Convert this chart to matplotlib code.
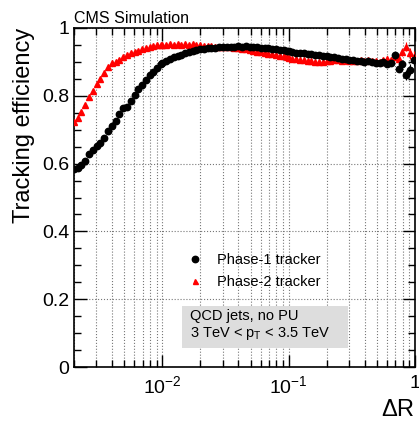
import numpy as np
import matplotlib
matplotlib.use("Agg")
import matplotlib.pyplot as plt
from matplotlib.ticker import LogLocator, NullFormatter, MultipleLocator
from matplotlib.patches import Rectangle
from matplotlib.lines import Line2D

plt.rcParams['font.family'] = ['Liberation Sans', 'DejaVu Sans']
plt.rcParams['mathtext.fontset'] = 'custom'
plt.rcParams['mathtext.rm'] = 'Liberation Sans'
plt.rcParams['mathtext.it'] = 'Liberation Sans:italic'

# delta R bin centres
dR = [0.00200, 0.00214, 0.00229, 0.00245, 0.00263, 0.00282, 0.00302, 0.00324, 0.00347, 0.00372,
      0.00398, 0.00427, 0.00457, 0.00490, 0.00525, 0.00562, 0.00603, 0.00646, 0.00692, 0.00741,
      0.00794, 0.00851, 0.00912, 0.00977,
      0.0100, 0.0107, 0.0115, 0.0123, 0.0132, 0.0141, 0.0151, 0.0162, 0.0174, 0.0186,
      0.0200, 0.0214, 0.0229, 0.0245, 0.0263, 0.0282, 0.0302, 0.0324, 0.0347, 0.0372,
      0.0398, 0.0427, 0.0457, 0.0490, 0.0525, 0.0562, 0.0603, 0.0646, 0.0692, 0.0741,
      0.0794, 0.0851, 0.0912, 0.0977,
      0.100, 0.107, 0.115, 0.123, 0.132, 0.141, 0.151, 0.162, 0.174, 0.186,
      0.200, 0.214, 0.229, 0.245, 0.263, 0.282, 0.302, 0.324, 0.347, 0.372,
      0.398, 0.427, 0.457, 0.490, 0.525, 0.562, 0.603, 0.646, 0.692, 0.741,
      0.794, 0.851, 0.912, 0.977]

# Phase-1 tracker
eff_phase1 = [0.583, 0.588, 0.596, 0.607, 0.628, 0.641, 0.651, 0.662, 0.675, 0.695,
              0.712, 0.726, 0.745, 0.764, 0.766, 0.785, 0.803, 0.819, 0.833, 0.846,
              0.860, 0.869, 0.881, 0.893,
              0.897, 0.903, 0.909, 0.913, 0.917, 0.921, 0.925, 0.928, 0.931, 0.934,
              0.937, 0.939, 0.940, 0.941, 0.942, 0.943, 0.944, 0.944, 0.945, 0.945,
              0.946, 0.945, 0.946, 0.944, 0.945, 0.943, 0.942, 0.941, 0.940, 0.938,
              0.937, 0.935, 0.934, 0.932,
              0.931, 0.929, 0.927, 0.926, 0.925, 0.923, 0.922, 0.920, 0.919, 0.917,
              0.916, 0.914, 0.913, 0.911, 0.910, 0.908, 0.906, 0.905, 0.904, 0.902,
              0.901, 0.903, 0.900, 0.898, 0.896, 0.900, 0.895, 0.896, 0.920, 0.880,
              0.895, 0.862, 0.877, 0.905]
err_phase1 = [0.0] * 78 + [0.004, 0.004, 0.005, 0.005, 0.006, 0.006, 0.007, 0.008, 0.010, 0.011,
                           0.012, 0.014, 0.016, 0.018]

# Phase-2 tracker
eff_phase2 = [0.724, 0.735, 0.752, 0.772, 0.795, 0.815, 0.835, 0.850, 0.867, 0.886,
              0.896, 0.900, 0.907, 0.915, 0.921, 0.925, 0.929, 0.933, 0.937, 0.941,
              0.945, 0.947, 0.949, 0.950,
              0.951, 0.950, 0.952, 0.951, 0.952, 0.950, 0.952, 0.951, 0.952, 0.950,
              0.951, 0.948, 0.947, 0.946, 0.945, 0.945, 0.944, 0.944, 0.943, 0.941,
              0.940, 0.938, 0.937, 0.935, 0.933, 0.930, 0.928, 0.926, 0.924, 0.922,
              0.920, 0.918, 0.916, 0.914,
              0.912, 0.910, 0.908, 0.906, 0.905, 0.903, 0.902, 0.900, 0.901, 0.899,
              0.902, 0.903, 0.905, 0.906, 0.904, 0.905, 0.903, 0.904, 0.903, 0.906,
              0.904, 0.905, 0.902, 0.903, 0.900, 0.905, 0.910, 0.905, 0.915, 0.908,
              0.930, 0.945, 0.925, 0.915]
err_phase2 = [0.0] * 78 + [0.004, 0.004, 0.005, 0.005, 0.006, 0.006, 0.007, 0.008, 0.010, 0.011,
                           0.012, 0.014, 0.016, 0.018]

fig = plt.figure(figsize=(4.19, 4.21), dpi=100)
ax = fig.add_axes([74 / 419, 54 / 421, 341 / 419, 339 / 421])

ax.errorbar(dR, eff_phase2, yerr=err_phase2, fmt='^', color='red', ms=4.2,
            mec='red', elinewidth=0.8, capsize=0, zorder=3)
ax.errorbar(dR, eff_phase1, yerr=err_phase1, fmt='o', color='black', ms=4.6,
            elinewidth=0.8, capsize=0, zorder=4)

ax.set_xscale('log')
ax.set_xlim(0.002, 1.0)
ax.set_ylim(0, 1)

ax.set_xticks([0.01, 0.1, 1])
ax.set_xticklabels([r'$10^{-2}$', r'$10^{-1}$', '1'])
ax.xaxis.set_minor_locator(LogLocator(base=10, subs=np.arange(2, 10)))
ax.xaxis.set_minor_formatter(NullFormatter())
ax.set_yticks([0, 0.2, 0.4, 0.6, 0.8, 1.0])
ax.set_yticklabels(['0', '0.2', '0.4', '0.6', '0.8', '1'])
ax.yaxis.set_minor_locator(MultipleLocator(0.05))

ax.tick_params(which='both', direction='in', top=True, right=True, labelsize=14, width=1)
ax.tick_params(which='major', length=9)
ax.tick_params(which='minor', length=5)
ax.tick_params(axis='x', which='major', pad=6)
for s in ax.spines.values():
    s.set_linewidth(1.2)

ax.grid(True, which='both', axis='x', linestyle=':', color='#777777', linewidth=0.8)
ax.grid(True, which='major', axis='y', linestyle=':', color='#777777', linewidth=0.8)

ax.set_ylabel('Tracking efficiency', fontsize=17, loc='top')
ax.set_xlabel(r'$\Delta$R', fontsize=17, loc='right')
ax.yaxis.set_label_coords(-0.115, 1.0)
ax.xaxis.set_label_coords(1.0, -0.095)

ax.text(0.0, 1.005, 'CMS Simulation', transform=ax.transAxes, fontsize=11.5,
        ha='left', va='bottom')

handles = [Line2D([], [], marker='o', ls='none', color='black', ms=4.6),
           Line2D([], [], marker='^', ls='none', color='red', ms=3.6)]
ax.legend(handles, ['Phase-1 tracker', 'Phase-2 tracker'], loc='upper left',
          bbox_to_anchor=(0.29, 0.375), frameon=False, fontsize=10.5,
          handlelength=1.2, handletextpad=0.9, labelspacing=0.55)

ax.add_patch(Rectangle((0.317, 0.056), 0.486, 0.124, transform=ax.transAxes,
                       facecolor='#dddddd', edgecolor='none', zorder=5))
ax.text(0.341, 0.150, 'QCD jets, no PU', transform=ax.transAxes, fontsize=10.5,
        va='center', ha='left', zorder=6)
ax.text(0.341, 0.100, r'3 TeV < p$_{\mathrm{T}}$ < 3.5 TeV', transform=ax.transAxes,
        fontsize=10.5, va='center', ha='left', zorder=6)

fig.savefig('out.png', dpi=100)
